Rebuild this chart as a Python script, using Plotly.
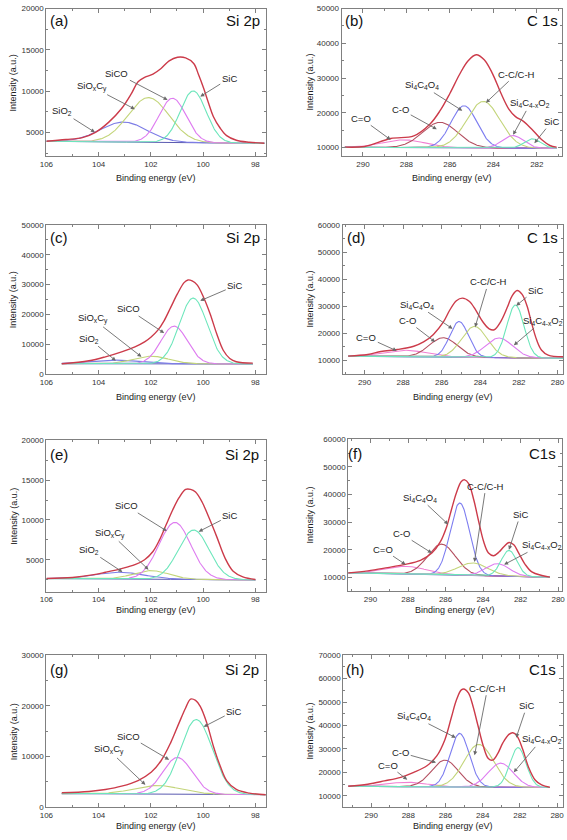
import numpy as np
import plotly.graph_objects as go

W, H = 567, 840

SI_LABELS = ["SiO<sub>2</sub>", "SiO<sub>x</sub>C<sub>y</sub>", "SiCO", "SiC"]
C_LABELS = ["C=O", "C-O", "Si<sub>4</sub>C<sub>4</sub>O<sub>4</sub>", "C-C/C-H",
            "Si<sub>4</sub>C<sub>4-x</sub>O<sub>2</sub>", "SiC"]

# ---------------- (a) Si 2p ----------------
A_BASE_X = [106.0, 97.65]
A_BASE_Y = [3950, 3700]
A_CENTER = [103.05, 102.09, 101.17, 100.38]
A_APEX = [6280, 9240, 9160, 10040]
A_FWHM = [2.1, 1.84, 1.22, 1.17]
A_ENV_X = [106.0, 105.25, 104.62, 104.12, 103.62, 103.12, 102.74, 102.49, 102.24, 101.92, 101.61, 101.3,
           100.98, 100.67, 100.36, 100.17, 99.98, 99.79, 99.61, 99.35, 99.10, 98.73, 98.23, 97.66]
A_ENV_Y = [3960, 4160, 4400, 5040, 6240, 7920, 9760, 11160, 11680, 12080, 12760, 13680,
           14120, 14040, 13360, 11960, 10360, 8560, 6960, 5560, 4640, 4080, 3840, 3720]

# ---------------- (b) C 1s ----------------
B_BASE_X = [290.83, 281.09]
B_BASE_Y = [10050, 9750]
B_CENTER = [288.11, 286.45, 285.35, 284.46, 283.1, 282.2]
B_APEX = [12190, 17250, 22030, 23270, 13440, 12480]
B_FWHM = [2.3, 1.89, 1.4, 1.8, 1.13, 0.9]
B_ENV_X = [290.83, 289.92, 288.72, 287.66, 286.91, 286.45, 286.0, 285.55, 285.17, 284.79, 284.42,
           284.04, 283.66, 283.28, 282.98, 282.6, 282.23, 281.77, 281.4, 281.09]
B_ENV_Y = [10094, 10285, 12580, 13340, 16780, 20600, 25560, 31100, 34920, 36730, 35300,
           31290, 25750, 20980, 18880, 17450, 15250, 12200, 10570, 10090]

# ---------------- (c) Si 2p ----------------
C_BASE_X = [105.41, 98.1]
C_BASE_Y = [3450, 3350]
C_CENTER = [103.37, 101.99, 101.11, 100.38]
C_APEX = [4650, 5980, 16050, 25450]
C_FWHM = [2.2, 1.6, 1.19, 1.25]
C_ENV_X = [105.41, 104.37, 103.74, 103.12, 102.61, 102.24, 101.99, 101.74, 101.49, 101.24, 100.99,
           100.73, 100.58, 100.42, 100.23, 99.98, 99.73, 99.48, 99.23, 98.98, 98.73, 98.1]
C_ENV_Y = [3437, 4430, 5760, 7420, 9080, 10740, 12400, 14610, 17930, 22350, 26770,
           30650, 31530, 31200, 29870, 25670, 20140, 13500, 7970, 5210, 4100, 3660]

# ---------------- (d) C 1s ----------------
D_BASE_X = [290.85, 279.71]
D_BASE_Y = [11580, 10800]
D_CENTER = [287.87, 285.92, 285.1, 284.3, 283.03, 282.18]
D_APEX = [13770, 18400, 24360, 22530, 18270, 30440]
D_FWHM = [2.6, 1.7, 1.14, 1.56, 1.65, 1.05]
D_ENV_X = [290.85, 289.83, 289.15, 288.3, 287.45, 286.94, 286.43, 285.92, 285.58, 285.24, 284.93,
           284.56, 284.22, 283.88, 283.54, 283.28, 282.94, 282.6, 282.35, 282.09, 281.84, 281.58,
           281.33, 281.07, 280.82, 280.48, 279.71]
D_ENV_Y = [11583, 12192, 13285, 14015, 15233, 16815, 19610, 24110, 28610, 32020, 32990,
           31770, 28370, 24360, 21680, 21320, 24360, 29590, 33850, 35790, 34450, 30200,
           23500, 17420, 13770, 11950, 11340]

# ---------------- (e) Si 2p ----------------
E_BASE_X = [106.0, 98.0]
E_BASE_Y = [2640, 2480]
E_CENTER = [103.18, 101.99, 101.08, 100.36]
E_APEX = [3430, 3640, 9690, 8730]
E_FWHM = [2.2, 1.6, 1.44, 1.38]
E_ENV_X = [106.0, 105.0, 104.24, 103.74, 103.12, 102.61, 102.24, 101.92, 101.67, 101.42, 101.17,
           100.92, 100.67, 100.48, 100.29, 100.04, 99.79, 99.48, 99.16, 98.85, 98.48, 98.0]
E_ENV_Y = [2645, 2770, 3100, 3430, 3890, 4385, 5010, 6040, 7490, 9355, 11220,
           12800, 13830, 13830, 13500, 12250, 10390, 7905, 5210, 3560, 2850, 2520]

# ---------------- (f) C1s ----------------
F_BASE_X = [291.19, 280.44]
F_BASE_Y = [11680, 10130]
F_CENTER = [288.13, 286.21, 285.24, 284.55, 283.23, 282.62]
F_APEX = [14070, 22060, 36970, 15260, 15020, 19800]
F_FWHM = [2.6, 1.75, 1.22, 1.9, 1.5, 0.98]
F_ENV_X = [291.19, 290.14, 289.09, 288.22, 287.34, 286.73, 286.29, 285.94, 285.68, 285.42, 285.16,
           284.98, 284.76, 284.49, 284.23, 283.97, 283.71, 283.44, 283.15, 282.88, 282.62, 282.36,
           282.1, 281.75, 281.4, 280.87, 280.44]
F_ENV_Y = [11680, 12400, 13590, 14670, 16220, 18840, 22780, 28390, 34710, 40670, 44730,
           45330, 43900, 37930, 30180, 23000, 18840, 17890, 19200, 21230, 22660, 21820,
           18840, 14670, 12040, 10730, 10130]

# ---------------- (g) Si 2p ----------------
G_BASE_X = [105.41, 97.6]
G_BASE_Y = [2700, 2500]
G_CENTER = [101.74, 100.98, 100.26]
G_APEX = [4300, 9830, 17310]
G_FWHM = [2.1, 1.32, 1.44]
G_ENV_X = [105.41, 104.37, 103.74, 103.12, 102.49, 101.99, 101.61, 101.24, 100.92, 100.67, 100.48,
           100.29, 100.11, 99.86, 99.61, 99.35, 99.1, 98.73, 98.23, 97.6]
G_ENV_Y = [2870, 3130, 3520, 4170, 5280, 6900, 9180, 12760, 16660, 19590, 21350,
           21090, 19920, 16660, 12110, 8200, 5280, 3520, 2800, 2480]

# ---------------- (h) C1s ----------------
H_BASE_X = [291.23, 280.39]
H_BASE_Y = [14080, 13520]
H_CENTER = [288.06, 286.03, 285.24, 284.21, 283.03, 282.1]
H_APEX = [15770, 25210, 36620, 31970, 23940, 30560]
H_FWHM = [2.5, 1.68, 1.23, 1.85, 1.59, 1.02]
H_ENV_X = [291.23, 290.18, 289.29, 288.41, 287.71, 287.0, 286.47, 286.03, 285.68, 285.41, 285.15,
           284.97, 284.76, 284.53, 284.27, 283.97, 283.7, 283.47, 283.21, 282.91, 282.59, 282.38,
           282.15, 281.85, 281.53, 281.18, 280.83, 280.39]
H_ENV_Y = [14080, 14930, 16340, 17890, 20000, 22820, 27040, 34080, 43660, 50990, 55210,
           55490, 53800, 48450, 40420, 31270, 25910, 25210, 27750, 32680, 36200, 36900,
           35490, 29860, 22110, 16760, 14640, 13660]

# ---------------- styles / layout positions ----------------
SI_COLORS = ["#7d7de6", "#c3d57a", "#de7cf0", "#6ce6bb"]
C_COLORS = ["#f27fd2", "#b44f60", "#7d7df0", "#c3d57a", "#de7cf0", "#6ce6bb"]
ENV_COLOR = "#cc3b4a"
BASE_COLOR = "#5a5ab0"
FONT = "Liberation Sans, Arial, sans-serif"

# label centre (x, y) and arrow head (x, y) in data coordinates
A_LBL = [(105.4, 7560, 104.14, 5040), (104.26, 10560, 102.61, 7840),
         (103.3, 12160, 101.36, 8960), (99.0, 11560, 100.11, 9360)]
B_LBL = [(290.08, 18400, 288.72, 12194), (288.26, 20980, 286.6, 15250),
         (287.28, 27950, 285.43, 20600), (282.95, 31100, 284.34, 22887),
         (282.3, 22700, 283.09, 13630), (281.32, 17445, 282.11, 11240)]
C_LBL = [(104.37, 11845, 103.34, 4430), (104.22, 18480, 102.36, 5760),
         (102.87, 21800, 101.49, 13720), (98.79, 29540, 100.11, 24560)]
D_LBL = [(289.91, 18640, 288.33, 13530), (287.79, 24720, 286.34, 16810),
         (287.28, 30560, 285.44, 21680), (283.57, 38950, 284.27, 22290),
         (280.75, 24720, 282.26, 15600), (281.16, 35910, 282.14, 30200)]
E_LBL = [(104.37, 6250, 103.09, 3470), (103.55, 8320, 102.09, 3760),
         (102.93, 11760, 101.39, 8610), (98.98, 10520, 100.17, 8530)]
F_LBL = [(289.35, 20270, 288.13, 14670), (288.34, 25760, 286.73, 18840),
         (287.38, 38880, 285.86, 29220), (283.85, 43060, 284.46, 15620),
         (280.87, 21820, 282.88, 14670), (282.01, 32800, 282.62, 20030)]
G_LBL = [(103.62, 11330, 102.21, 4430), (102.84, 14060, 101.3, 9380),
         (98.83, 18940, 99.98, 15880)]
H_LBL = [(289.08, 23100, 288.06, 16900), (288.41, 28450, 286.51, 24220),
         (287.71, 43940, 285.45, 34790), (283.74, 55910, 284.44, 27320),
         (280.83, 34080, 282.33, 20000), (281.62, 48450, 282.2, 34790)]

panels = [
    dict(letter="(a)", region="Si 2p", names=SI_LABELS, colors=SI_COLORS,
         bx=A_BASE_X, by=A_BASE_Y, c=A_CENTER, h=A_APEX, w=A_FWHM, ex=A_ENV_X, ey=A_ENV_Y, lbl=A_LBL,
         xr=[106, 97.6], yr=[2130, 20000], dt=5000, box=(40, 263, 4.7, 154), lpos=(53, 17), rpos=259),
    dict(letter="(b)", region="C 1s", names=C_LABELS, colors=C_COLORS,
         bx=B_BASE_X, by=B_BASE_Y, c=B_CENTER, h=B_APEX, w=B_FWHM, ex=B_ENV_X, ey=B_ENV_Y, lbl=B_LBL,
         xr=[290.98, 280.84], yr=[7440, 50000], dt=10000, box=(340, 564, 4.7, 154), lpos=(353, 17), rpos=562),
    dict(letter="(c)", region="Si 2p", names=SI_LABELS, colors=SI_COLORS,
         bx=C_BASE_X, by=C_BASE_Y, c=C_CENTER, h=C_APEX, w=C_FWHM, ex=C_ENV_X, ey=C_ENV_Y, lbl=C_LBL,
         xr=[106, 97.6], yr=[0, 50000], dt=10000, box=(40, 263, 223.3, 374), lpos=(53, 236), rpos=259),
    dict(letter="(d)", region="C 1s", names=C_LABELS, colors=C_COLORS,
         bx=D_BASE_X, by=D_BASE_Y, c=D_CENTER, h=D_APEX, w=D_FWHM, ex=D_ENV_X, ey=D_ENV_Y, lbl=D_LBL,
         xr=[291.14, 279.71], yr=[5000, 60000], dt=10000, box=(341, 565, 223.3, 374), lpos=(355, 236), rpos=562),
    dict(letter="(e)", region="Si 2p", names=SI_LABELS, colors=SI_COLORS,
         bx=E_BASE_X, by=E_BASE_Y, c=E_CENTER, h=E_APEX, w=E_FWHM, ex=E_ENV_X, ey=E_ENV_Y, lbl=E_LBL,
         xr=[106, 97.6], yr=[1000, 20000], dt=5000, box=(40, 263, 441, 594), lpos=(53, 455), rpos=258),
    dict(letter="(f)", region="C1s", names=C_LABELS, colors=C_COLORS,
         bx=F_BASE_X, by=F_BASE_Y, c=F_CENTER, h=F_APEX, w=F_FWHM, ex=F_ENV_X, ey=F_ENV_Y, lbl=F_LBL,
         xr=[291.19, 279.79], yr=[5000, 60000], dt=10000, box=(346.7, 564, 440, 593.7), lpos=(354, 454), rpos=560),
    dict(letter="(g)", region="Si 2p", names=SI_LABELS[1:], colors=SI_COLORS[1:],
         bx=G_BASE_X, by=G_BASE_Y, c=G_CENTER, h=G_APEX, w=G_FWHM, ex=G_ENV_X, ey=G_ENV_Y, lbl=G_LBL,
         xr=[106, 97.6], yr=[0, 30000], dt=10000, box=(40, 263, 658.3, 812), lpos=(53, 673), rpos=258),
    dict(letter="(h)", region="C1s", names=C_LABELS, colors=C_COLORS,
         bx=H_BASE_X, by=H_BASE_Y, c=H_CENTER, h=H_APEX, w=H_FWHM, ex=H_ENV_X, ey=H_ENV_Y, lbl=H_LBL,
         xr=[291.5, 279.68], yr=[5000, 70000], dt=10000, box=(341.7, 565, 658.3, 812.2), lpos=(354, 673), rpos=560),
]

fig = go.Figure()
annotations = []
layout = {}

XTITLE_Y = [176, 176, 397, 397, 613, 613, 831, 831]

for i, p in enumerate(panels, start=1):
    xs = "x" if i == 1 else f"x{i}"
    ys = "y" if i == 1 else f"y{i}"
    l, r, t, b = p["box"]

    xg = np.linspace(p["bx"][0], p["bx"][1], 400)
    base = np.interp(xg, p["bx"][::-1], p["by"][::-1])
    fig.add_trace(go.Scatter(x=xg, y=base, mode="lines", line=dict(color=BASE_COLOR, width=1),
                             xaxis=xs, yaxis=ys, showlegend=False, hoverinfo="skip"))
    for cc, hh, ww, col in zip(p["c"], p["h"], p["w"], p["colors"]):
        b0 = np.interp(cc, p["bx"][::-1], p["by"][::-1])
        comp = base + (hh - b0) * np.exp(-4 * np.log(2) * (xg - cc) ** 2 / ww ** 2)
        fig.add_trace(go.Scatter(x=xg, y=comp, mode="lines", line=dict(color=col, width=1.1),
                                 xaxis=xs, yaxis=ys, showlegend=False, hoverinfo="skip"))
    fig.add_trace(go.Scatter(x=p["ex"], y=p["ey"], mode="lines",
                             line=dict(color=ENV_COLOR, width=1.4, shape="spline", smoothing=1.0),
                             xaxis=xs, yaxis=ys, showlegend=False, hoverinfo="skip"))

    axcommon = dict(showline=True, linecolor="#808080", linewidth=1, mirror="ticks",
                    ticks="inside", ticklen=4, tickcolor="#808080", showgrid=False, zeroline=False,
                    tickfont=dict(family=FONT, size=8, color="#333333"), tickformat="d")
    layout["xaxis" if i == 1 else f"xaxis{i}"] = dict(
        domain=[l / W, r / W], range=p["xr"], anchor=ys, dtick=2, tick0=0,
        minor=dict(dtick=1, ticks="inside", ticklen=2, tickcolor="#808080"), **axcommon)
    layout["yaxis" if i == 1 else f"yaxis{i}"] = dict(
        domain=[1 - b / H, 1 - t / H], range=p["yr"], anchor=xs, dtick=p["dt"], tick0=0,
        minor=dict(dtick=p["dt"] / 2, ticks="inside", ticklen=2, tickcolor="#808080"), **axcommon)

    # component labels with arrows pointing to their peaks
    for name, (lx, ly, hx, hy) in zip(p["names"], p["lbl"]):
        annotations.append(dict(x=hx, y=hy, ax=lx, ay=ly, xref=xs, yref=ys, axref=xs, ayref=ys,
                                text=name, showarrow=True, arrowhead=2, arrowsize=0.9,
                                arrowwidth=0.9, arrowcolor="#6a6a6a", standoff=0,
                                font=dict(family=FONT, size=9.5, color="#222222")))

    # panel letter and region
    annotations.append(dict(x=p["lpos"][0] / W, y=1 - p["lpos"][1] / H, xref="paper", yref="paper",
                            text=p["letter"], showarrow=False, xanchor="center", yanchor="middle",
                            font=dict(family=FONT, size=15, color="#111111")))
    annotations.append(dict(x=p["rpos"] / W, y=1 - p["lpos"][1] / H, xref="paper", yref="paper",
                            text=p["region"], showarrow=False, xanchor="right", yanchor="middle",
                            font=dict(family=FONT, size=15, color="#111111")))
    # axis titles
    annotations.append(dict(x=(l + r) / 2 / W, y=1 - XTITLE_Y[i - 1] / H, xref="paper", yref="paper",
                            text="Binding energy (eV)", showarrow=False, xanchor="center", yanchor="middle",
                            font=dict(family=FONT, size=9, color="#222222")))
    ytx = 7 if l < 200 else 308
    annotations.append(dict(x=ytx / W, y=1 - (t + b) / 2 / H, xref="paper", yref="paper",
                            text="Intensity (a.u.)", showarrow=False, textangle=-90,
                            xanchor="center", yanchor="middle",
                            font=dict(family=FONT, size=9, color="#222222")))

fig.update_layout(width=W, height=H, autosize=False, margin=dict(l=0, r=0, t=0, b=0),
                  paper_bgcolor="white", plot_bgcolor="white", showlegend=False,
                  annotations=annotations, **layout)

fig.write_html("out.html", config={"displayModeBar": False, "staticPlot": True},
               post_script="document.body.style.margin='0';document.body.style.padding='0';"
                           "document.body.style.overflow='hidden';")
